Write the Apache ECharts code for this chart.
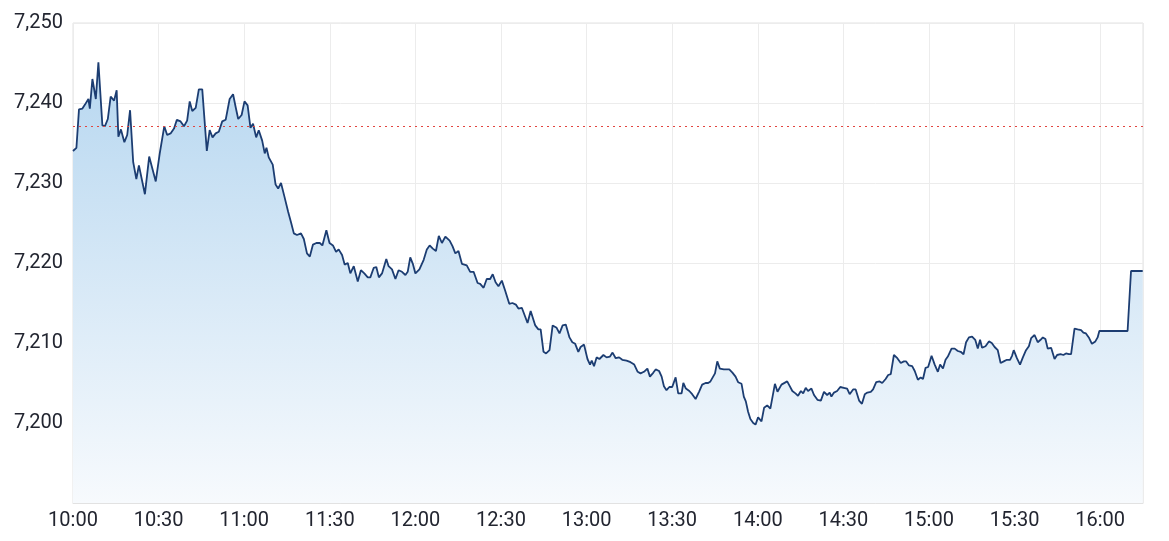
<!DOCTYPE html>
<html>
<head>
<meta charset="utf-8">
<script src="https://cdn.jsdelivr.net/npm/echarts@6/dist/echarts.min.js"></script>
<style>
html,body{margin:0;padding:0;background:#fff;}
#c{width:1169px;height:541px;}
</style>
</head>
<body>
<div id="c"></div>
<script>
// Tick labels for the time axis (every 30 minutes from 10:00)
const tickLabels = ['10:00','10:30','11:00','11:30','12:00','12:30','13:00','13:30','14:00','14:30','15:00','15:30','16:00'];
// Minutes after 10:00 for each reading
const minutes = [
0,1.2,2.1,3.3,4.2,5.4,5.9,6.8,8.0,8.9,10.3,11.2,12.2,13.2,14.4,15.3,15.9,16.8,18.0,19.0,20.0,21.1,22.2,23.1,25.2,26.7,29.0,30.4,32.0,33.0,34.2,35.4,36.4,37.7,38.9,40.0,40.9,41.8,43.0,44.1,45.3,46.9,47.9,48.9,50.0,51.1,52.3,53.5,54.9,56.1,57.0,57.9,59.1,60.1,61.2,62.2,
63.1,64.2,65.1,66.3,67.2,67.8,68.6,70.0,71.0,71.9,72.9,74.1,75.4,76.4,77.4,78.5,79.9,80.9,82.0,83.0,84.1,85.3,86.5,87.4,88.8,89.9,91.1,92.2,93.1,94.3,95.2,96.3,97.2,98.4,99.8,100.9,102.1,103.3,104.2,105.4,106.3,107.2,108.3,109.8,110.6,111.8,113.0,114.1,115.3,116.5,117.3,118.2,119.1,120.0,121.4,
122.9,124.0,125.0,126.1,127.2,128.2,129.3,130.5,132.0,133.0,134.0,135.1,136.3,138.0,139.2,140.4,141.8,142.7,143.9,145.0,146.2,147.1,148.1,149.1,150.3,151.5,152.9,154.0,155.2,156.1,157.3,159.3,160.4,162.0,163.1,163.9,164.9,165.8,167.0,168.1,169.5,170.5,171.6,172.7,174.0,175.0,176.0,177.1,177.9,179.1,180.3,181.2,181.8,182.6,183.5,184.5,
185.9,187.0,188.2,189.1,190.2,191.4,192.5,194.0,195.4,196.7,197.9,198.9,200.1,201.3,202.2,203.4,204.2,205.4,206.3,207.1,208.0,209.0,210.0,211.2,212.1,213.3,213.9,214.8,216.0,217.0,218.2,219.4,220.5,221.7,222.6,223.4,224.0,225.0,225.8,226.7,228.1,230.0,231.1,232.2,233.1,234.3,235.1,235.8,236.6,237.4,238.4,239.2,240.1,241.3,242.2,243.3,244.4,246.0,246.9,248.3,
249.0,250.3,251.2,252.1,253.2,254.1,255.1,255.9,256.8,257.6,258.8,259.7,260.9,262.1,263.2,264.3,265.2,265.8,266.7,267.8,268.9,270.1,271.3,272.2,273.4,274.3,275.5,276.5,277.5,278.4,279.6,280.4,281.5,282.7,283.6,284.8,285.7,286.6,287.7,288.9,290.1,291.2,292.0,293.0,294.1,295.0,296.1,297.1,297.9,298.8,299.7,300.9,302.0,303.1,303.9,304.9,305.8,306.6,307.9,309.0,310.1,311.1,
312.1,313.0,314.0,315.1,316.2,317.1,317.9,318.6,319.8,321.0,322.0,323.0,324.1,325.1,326.2,327.3,328.4,329.1,329.7,330.8,331.9,332.9,334.0,335.0,335.8,337.0,338.1,339.1,339.9,340.8,341.6,342.8,344.0,344.9,346.1,347.1,348.0,349.0,349.8,351.0,352.1,353.3,354.1,355.0,356.0,357.1,358.3,359.1,359.7,369.6,370.8,374.9
];
// Index level at each reading
const prices = [
7234.0,7234.4,7239.2,7239.3,7239.8,7240.5,7239.3,7243.0,7240.5,7245.1,7237.2,7237.1,7238.0,7240.8,7240.3,7241.6,7235.8,7236.7,7235.1,7236.0,7239.1,7232.6,7230.5,7232.2,7228.6,7233.3,7230.2,7233.7,7237.1,7236.0,7236.2,7236.8,7237.9,7237.7,7237.1,7237.8,7240.2,7239.0,7239.4,7241.7,7241.7,7234.0,7236.6,7235.7,7236.2,7236.4,7237.7,7237.9,7240.5,7241.1,7239.5,7238.0,7238.5,7240.2,7239.7,7236.9,
7237.4,7235.7,7236.6,7235.3,7233.7,7234.4,7233.2,7232.3,7229.8,7229.3,7230.0,7228.3,7226.4,7225.1,7223.7,7223.5,7223.7,7223.0,7221.2,7220.8,7222.3,7222.5,7222.5,7222.2,7224.1,7222.5,7222.2,7221.4,7221.7,7221.0,7219.8,7220.0,7218.7,7219.6,7217.7,7219.1,7218.7,7218.2,7218.2,7219.4,7219.5,7218.2,7218.7,7220.5,7219.6,7219.2,7218.0,7219.1,7218.9,7218.5,7218.9,7220.7,7219.9,7218.7,7219.2,
7220.4,7221.7,7222.2,7221.8,7221.5,7223.4,7222.5,7223.3,7222.8,7222.1,7221.2,7221.5,7219.9,7219.7,7218.9,7218.9,7217.5,7217.4,7216.9,7218.0,7218.0,7218.6,7217.6,7217.1,7217.8,7216.5,7214.9,7215.0,7214.8,7214.3,7214.4,7212.5,7214.0,7212.2,7211.7,7211.7,7208.9,7208.7,7209.1,7212.2,7211.9,7211.2,7212.2,7212.3,7210.7,7210.1,7209.9,7208.9,7209.5,7209.8,7208.0,7207.3,7207.8,7207.1,7208.2,7208.0,
7208.5,7208.2,7208.3,7208.8,7208.1,7208.2,7207.9,7207.8,7207.6,7207.3,7206.4,7206.2,7206.4,7206.8,7205.8,7206.3,7206.7,7206.5,7205.8,7204.6,7204.1,7204.5,7204.5,7205.7,7203.7,7203.7,7205.0,7204.3,7204.0,7203.6,7203.0,7203.9,7204.8,7205.0,7205.0,7205.2,7205.0,7206.2,7207.7,7206.8,7206.7,7206.7,7206.3,7205.8,7205.1,7204.9,7203.3,7202.7,7201.4,7200.5,7200.0,7199.8,7200.7,7200.2,7201.9,7202.2,7201.8,7204.9,7203.9,7204.8,
7205.0,7205.2,7204.6,7204.0,7203.7,7203.4,7204.0,7203.7,7204.4,7204.0,7204.3,7203.5,7202.9,7202.8,7203.9,7203.5,7203.8,7203.3,7203.8,7204.0,7204.5,7204.4,7204.3,7203.6,7204.2,7204.2,7202.8,7202.4,7203.6,7203.8,7203.9,7204.2,7205.1,7205.2,7205.0,7205.5,7206.0,7206.1,7208.5,7208.1,7207.5,7207.7,7207.7,7207.2,7207.1,7206.5,7205.4,7205.7,7205.5,7206.9,7207.0,7208.4,7207.3,7206.4,7207.3,7206.8,7207.9,7208.3,7209.3,7209.3,7209.0,7208.9,
7208.6,7210.1,7210.7,7210.8,7210.4,7209.3,7210.4,7209.4,7209.6,7210.2,7210.0,7209.5,7209.1,7207.5,7207.7,7207.9,7207.9,7208.4,7209.1,7208.1,7207.3,7208.2,7209.1,7209.6,7210.6,7211.0,7210.1,7210.4,7210.7,7210.5,7209.3,7209.4,7208.0,7208.5,7208.6,7208.5,7208.7,7208.6,7208.6,7211.8,7211.7,7211.6,7211.3,7211.2,7210.7,7209.9,7210.2,7210.7,7211.5,7211.5,7219.0,7219.0
];
// Reference (previous close) level shown as dotted red line
const prevClose = 7237.1;

const chart = echarts.init(document.getElementById('c'), null, {renderer: 'canvas'});
const FONT = 'Roboto, "Open Sans", sans-serif';
chart.setOption({
  animation: false,
  backgroundColor: '#ffffff',
  grid: {
    left: 73, top: 23, right: 26, bottom: 38,
    show: true, borderColor: '#e2e2e2', borderWidth: 1, backgroundColor: 'transparent'
  },
  xAxis: {
    type: 'value',
    min: 0, max: 375, interval: 30,
    axisLine: {show: true, lineStyle: {color: '#e2e2e2'}},
    axisTick: {show: false},
    splitLine: {show: true, lineStyle: {color: '#ececec', width: 1}},
    axisLabel: {
      color: '#222530', fontSize: 20, fontFamily: FONT, margin: 8,
      showMaxLabel: false,
      formatter: function (v) { return (v % 30 === 0 && tickLabels[v / 30]) ? tickLabels[v / 30] : ''; }
    }
  },
  yAxis: {
    type: 'value',
    min: 7190, max: 7250, interval: 10,
    axisLine: {show: false},
    axisTick: {show: false},
    splitLine: {show: true, lineStyle: {color: '#ececec', width: 1}},
    axisLabel: {
      color: '#222530', fontSize: 20, fontFamily: FONT, margin: 10,
      formatter: function (v) { return v === 7190 ? '' : v.toLocaleString('en-US'); }
    }
  },
  series: [{
    type: 'line',
    data: minutes.map(function (m, i) { return [m, prices[i]]; }),
    showSymbol: false,
    symbol: 'none',
    lineStyle: {color: '#1c3d72', width: 1.8},
    areaStyle: {
      origin: 'start',
      opacity: 1,
      color: new echarts.graphic.LinearGradient(0, 0, 0, 1, [
        {offset: 0, color: '#b7d7f0'},
        {offset: 1, color: '#f7fafd'}
      ])
    },
    markLine: {
      silent: true,
      symbol: 'none',
      label: {show: false},
      lineStyle: {color: '#e2453f', type: [2, 4], width: 1.2},
      data: [{yAxis: prevClose}]
    }
  }]
});
</script>
</body>
</html>
